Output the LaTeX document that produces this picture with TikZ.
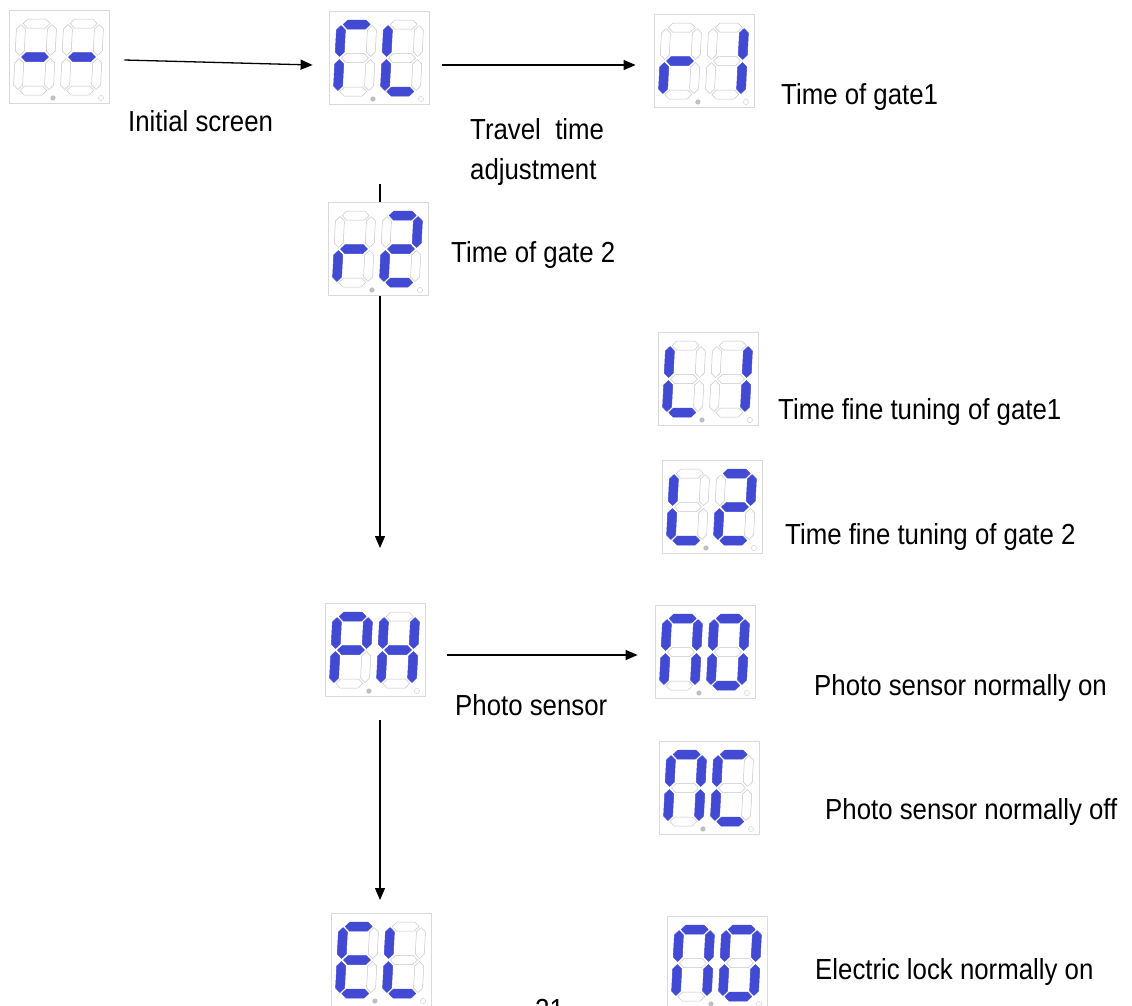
\documentclass[tikz,border=0pt]{standalone}
\usepackage{fontspec}
\setmainfont[FakeStretch=0.89]{Liberation Sans}
\usepackage{tikz}
\usetikzlibrary{arrows.meta, calc}
\definecolor{segblue}{RGB}{66,74,212}
\newcommand\lblfont{\fontsize{29}{40}\selectfont}
\tikzset{
  disp/.style={rectangle, draw=gray!30, fill=white, line width=0.8pt,
               minimum width=100pt, minimum height=93pt, inner sep=0pt},
  lbl/.style={inner sep=0pt, anchor=base west, font=\lblfont, align=left},
  lit0/.style={draw=gray!45, line width=0.5pt, line join=round},
  lit1/.style={draw=segblue, fill=segblue, line width=0.5pt, line join=round},
  digits/.style={xslant=0.05},
  arw/.style={-{Triangle[length=12pt, width=10pt]}, line width=1.3pt}
}
% one segment, flag 0 = dark, 1 = lit
\newcommand\hseg[3]{\draw[lit#3, shift={(#1,#2)}] (-13.5,0) -- (-9,-4.5) -- (9,-4.5)
  -- (13.5,0) -- (9,4.5) -- (-9,4.5) -- cycle;}
\newcommand\vseg[3]{\draw[lit#3, shift={(#1,#2)}] (0,-15.5) -- (4.5,-11) -- (4.5,11)
  -- (0,15.5) -- (-4.5,11) -- (-4.5,-11) -- cycle;}
% digit at x offset #1, flags a b c d e f g
\newcommand\digit[8]{%
  \hseg{#1}{-33.5}{#2}\vseg{#1+15.5}{-17}{#3}\vseg{#1+15.5}{17}{#4}%
  \hseg{#1}{33.5}{#5}\vseg{#1-15.5}{17}{#6}\vseg{#1-15.5}{-17}{#7}\hseg{#1}{0}{#8}}
\newcommand\ledpts{\fill[gray!50] (-4,41) circle (2.6);
  \draw[gray!40] (44,41) circle (2.6);}

\begin{document}
\begin{tikzpicture}[x=1pt, y=-1pt]
\useasboundingbox (0,0) rectangle (1132,1005);

% top row
\node[disp] (idle) at (59,57) {};
\node[disp] (cl) at (379,58) {};
\node[disp] (ra) at (704,61) {};
\draw[arw] ([xshift=15pt,yshift=-3pt]idle.east) -- ([xshift=-16pt,yshift=-7pt]cl.west);
\draw[arw] ([xshift=13pt,yshift=-7pt]cl.east) -- ([xshift=-18pt,yshift=-4pt]ra.west);

% left column
\coordinate (vend) at (380,548);
\draw[arw] ([xshift=1pt,yshift=-79pt]cl.south) -- (vend);
\node[disp] (rb) at (378,249) {};
\node[disp] (ph) at (375,650) {};
\coordinate (vend2) at (380,900);
\draw[arw] ([xshift=5pt,yshift=-23pt]ph.south) -- (vend2);
\node[disp] (el) at (381,960) {};

% right column
\node[disp] (la) at (708,379) {};
\node[disp] (lb) at (712,507) {};
\node[disp] (no) at (705,652) {};
\node[disp] (nc) at (709,788) {};
\node[disp] (lo) at (717,963) {};
\draw[arw] ([xshift=22pt,yshift=-5pt]ph.east) -- ([xshift=-17pt,yshift=-3pt]no.west);

% segments
\begin{scope}[shift={(idle.center)}, digits]
  \digit{-24}{0}{0}{0}{0}{0}{0}{1}\digit{23}{0}{0}{0}{0}{0}{0}{1}\ledpts
\end{scope}
\begin{scope}[shift={(cl.center)}, digits]
  \digit{-24}{1}{0}{0}{0}{1}{1}{0}\digit{23}{0}{0}{0}{1}{1}{1}{0}\ledpts
\end{scope}
\begin{scope}[shift={(ra.center)}, digits]
  \digit{-24}{0}{0}{0}{0}{1}{0}{1}\digit{23}{0}{1}{1}{0}{0}{0}{0}\ledpts
\end{scope}
\begin{scope}[shift={(rb.center)}, digits]
  \digit{-24}{0}{0}{0}{0}{1}{0}{1}\digit{23}{1}{1}{0}{1}{1}{0}{1}\ledpts
\end{scope}
\begin{scope}[shift={(la.center)}, digits]
  \digit{-24}{0}{0}{0}{1}{1}{1}{0}\digit{23}{0}{1}{1}{0}{0}{0}{0}\ledpts
\end{scope}
\begin{scope}[shift={(lb.center)}, digits]
  \digit{-24}{0}{0}{0}{1}{1}{1}{0}\digit{23}{1}{1}{0}{1}{1}{0}{1}\ledpts
\end{scope}
\begin{scope}[shift={(ph.center)}, digits]
  \digit{-24}{1}{1}{0}{0}{1}{1}{1}\digit{23}{0}{1}{1}{0}{1}{1}{1}\ledpts
\end{scope}
\begin{scope}[shift={(no.center)}, digits]
  \digit{-24}{1}{1}{1}{0}{1}{1}{0}\digit{23}{1}{1}{1}{1}{1}{1}{0}\ledpts
\end{scope}
\begin{scope}[shift={(nc.center)}, digits]
  \digit{-24}{1}{1}{1}{0}{1}{1}{0}\digit{23}{1}{0}{0}{1}{1}{1}{0}\ledpts
\end{scope}
\begin{scope}[shift={(el.center)}, digits]
  \digit{-24}{1}{0}{0}{1}{1}{1}{1}\digit{23}{0}{0}{0}{1}{1}{1}{0}\ledpts
\end{scope}
\begin{scope}[shift={(lo.center)}, digits]
  \digit{-24}{1}{1}{1}{0}{1}{1}{0}\digit{23}{1}{1}{1}{1}{1}{1}{0}\ledpts
\end{scope}

% labels
\node[lbl] (tidle) at (128,131) {Initial screen};
\node[lbl] (tcl) at (470,179) {Travel\ \ time\\adjustment};
\node[lbl] (tra) at (781,104) {Time of gate1};
\node[lbl] (trb) at (451,262) {Time of gate 2};
\node[lbl] (tla) at (778,419) {Time fine tuning of gate1};
\node[lbl] (tlb) at (785,544) {Time fine tuning of gate 2};
\node[lbl] (tph) at (455,715) {Photo sensor};
\node[lbl] (tno) at (814,695) {Photo sensor normally on};
\node[lbl] (tnc) at (825,819) {Photo sensor normally off};
\node[lbl] (tlo) at (815,979) {Electric lock normally on};
\node[lbl] (pg) at (535,1019) {21};
\end{tikzpicture}
\end{document}
